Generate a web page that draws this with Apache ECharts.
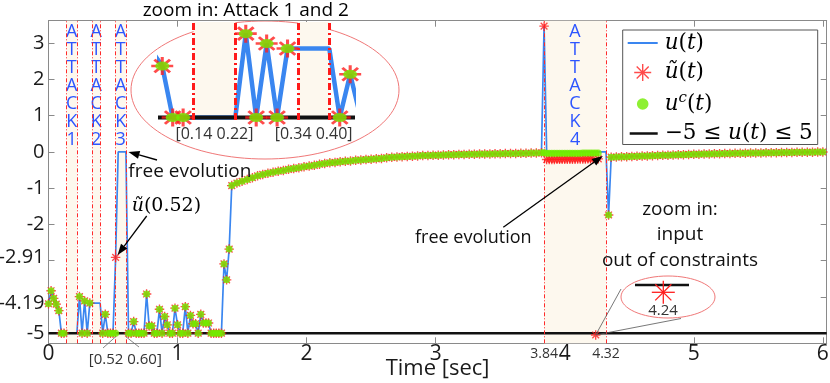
<!DOCTYPE html>
<html><head><meta charset="utf-8">
<script src="https://cdn.jsdelivr.net/npm/echarts@6/dist/echarts.min.js"></script>
<style>html,body{margin:0;padding:0;background:#fff}#c{width:830px;height:383px}</style>
</head><body><div id="c"></div><script>
// ---------- axes ----------
const X_MIN = 0, X_MAX = 6.03, Y_MIN = -5.28, Y_MAX = 3.62;
const xTickValues = [0, 1, 2, 3, 4, 5, 6];
const xExtraLabels = [3.84, 4.32];
const yTickValues = [-5, -4, -3, -2, -1, 0, 1, 2, 3];
const yLabelValues = [-5, -4.19, -2.91, -2, -1, 0, 1, 2, 3];
const bounds = [-5, 5];
// ---------- attacks ----------
const attackStart = [0.14, 0.34, 0.52, 3.84];
const attackEnd = [0.22, 0.40, 0.60, 4.32];
const attackNames = ['ATTACK1', 'ATTACK2', 'ATTACK3', 'ATTACK4'];
const insetAttackIdx = [0, 1];
const INSET_X = [0.0757, 0.4454], INSET_Y = [-5.03, -3.85];
// ---------- segment A: 0 .. 1.40 (discrete, dt = 0.02) ----------
const tA = [0,0.02,0.04,0.06,0.08,0.1,0.12,0.14,0.16,0.18,0.2,0.22,0.24,0.26,0.28,0.3,0.32,0.34,0.36,0.38,0.4,
  0.42,0.44,0.46,0.48,0.5,0.52,0.54,0.56,0.58,0.6,0.62,0.64,0.66,0.68,0.7,0.72,0.74,0.76,0.78,0.8,
  0.82,0.84,0.86,0.88,0.9,0.92,0.94,0.96,0.98,1,1.02,1.04,1.06,1.08,1.1,1.12,1.14,1.16,1.18,1.2,
  1.22,1.24,1.26,1.28,1.3,1.32,1.34,1.36,1.38,1.4];
const uA = [-4.19,-3.83,-4.04,-4.20,-4.38,-5,-5,
  -5,-5,-5,-5,-5,
  -3.99,-5,-4.11,-5,-4.17,
  -4.17,-4.17,-4.17,-4.17,
  -5,-4.48,-5,-5,-5,-2.91,
  0,0,0,0,
  -5,-5,-4.68,-5,-5,-5,-5,-3.92,-4.80,-4.80,-5,-5,-4.34,-5,-4.54,-4.77,-5,-5,-4.31,-4.77,
  -5,-5,-4.27,-5,-4.51,-4.74,-4.74,-5,-4.48,-4.72,-4.72,-4.72,-5,-5,-5,-5,-5,-3.09,-3.53,-2.68];
const uTildeA = [-4.19,-3.83,-4.04,-4.20,-4.38,-5,-5,
  null,null,null,null,null,
  -3.99,-5,-4.11,-5,-4.17,
  null,null,null,null,
  -5,-4.48,-5,-5,-5,-2.91,
  null,null,null,null,
  -5,-5,-4.68,-5,-5,-5,-5,-3.92,-4.80,-4.80,-5,-5,-4.34,-5,-4.54,-4.77,-5,-5,-4.31,-4.77,
  -5,-5,-4.27,-5,-4.51,-4.74,-4.74,-5,-4.48,-4.72,-4.72,-4.72,-5,-5,-5,-5,-5,-3.09,-3.53,-2.68];
const uCA = [-4.19,-3.83,-4.04,-4.20,-4.38,-5,-5,
  null,null,null,null,null,
  -3.99,-5,-4.11,-5,-4.17,
  null,null,null,null,
  -5,-4.48,-5,-5,-5,-5,
  null,null,null,null,
  -5,-5,-4.68,-5,-5,-5,-5,-3.92,-4.80,-4.80,-5,-5,-4.34,-5,-4.54,-4.77,-5,-5,-4.31,-4.77,
  -5,-5,-4.27,-5,-4.51,-4.74,-4.74,-5,-4.48,-4.72,-4.72,-4.72,-5,-5,-5,-5,-5,-3.09,-3.53,-2.68];
// ---------- segment B: 1.42 .. 3.82 (u = u~ = u^c) ----------
const tB = [1.42,1.46,1.5,1.54,1.58,1.62,1.66,1.7,1.74,1.78,1.82,1.86,1.9,1.94,1.98,2.02,2.06,2.1,2.14,2.18,
  2.22,2.26,2.3,2.34,2.38,2.42,2.46,2.5,2.54,2.58,2.62,2.66,2.7,2.74,2.78,2.82,2.86,2.9,2.94,2.98,
  3.02,3.06,3.1,3.14,3.18,3.22,3.26,3.3,3.34,3.38,3.42,3.46,3.5,3.54,3.58,3.62,3.66,3.7,3.74,3.78,3.82];
const uB = [-0.93,-0.86,-0.81,-0.76,-0.71,-0.66,-0.62,-0.59,-0.56,-0.53,
  -0.51,-0.48,-0.46,-0.44,-0.41,-0.39,-0.37,-0.34,-0.32,-0.30,
  -0.29,-0.27,-0.26,-0.25,-0.23,-0.22,-0.21,-0.20,-0.19,-0.18,
  -0.16,-0.15,-0.14,-0.13,-0.125,-0.12,-0.11,-0.10,-0.10,-0.095,
  -0.09,-0.085,-0.08,-0.075,-0.07,-0.068,-0.065,-0.062,-0.06,-0.057,
  -0.055,-0.052,-0.05,-0.047,-0.045,-0.042,-0.04,-0.037,-0.033,-0.03,-0.025];
// ---------- segment C: attack 4, 3.84 .. 4.34 ----------
const tC = [3.84,3.86,3.88,3.9,3.92,3.94,3.96,3.98,4,4.02,4.04,4.06,4.08,4.1,4.12,4.14,4.16,4.18,4.2,4.22,4.24,4.26,4.28,4.3,4.32,4.34];
const uAtk4 = [3.47,0,0,0,0,0,0,0,0,0,0,0,0,0,0,0,0,0,0,0,0,0,0,0,0,-1.74];
const uTildeAtk4 = [3.47,-0.21,-0.21,-0.21,-0.21,-0.205,-0.205,-0.205,-0.2,-0.2,-0.2,-0.2,-0.2,-0.195,-0.195,-0.195,-0.195,-0.19,-0.19,-0.19,-5.05,-0.19,null,null,null,-1.74];
const uCAtk4 = [-0.02,-0.04,-0.04,-0.04,-0.04,-0.038,-0.038,-0.038,-0.036,-0.036,-0.036,-0.035,-0.035,-0.034,-0.034,-0.033,-0.033,-0.032,-0.032,-0.031,-0.031,-0.03,null,null,null,-1.74];
// ---------- segment D: 4.36 .. 6.00 (u = u~ = u^c) ----------
const tD = [4.36,4.4,4.44,4.48,4.52,4.56,4.6,4.64,4.68,4.72,4.76,4.8,4.84,4.88,4.92,4.96,5,5.04,5.08,5.12,5.16,
  5.2,5.24,5.28,5.32,5.36,5.4,5.44,5.48,5.52,5.56,5.6,5.64,5.68,5.72,5.76,5.8,5.84,5.88,5.92,5.96,6];
const uD = [-0.145,-0.14,-0.135,-0.13,-0.125,-0.12,-0.115,-0.11,-0.105,-0.10,
  -0.095,-0.09,-0.085,-0.08,-0.075,-0.07,-0.066,-0.062,-0.058,-0.055,
  -0.052,-0.049,-0.046,-0.043,-0.04,-0.037,-0.034,-0.032,-0.03,-0.027,
  -0.025,-0.022,-0.02,-0.018,-0.016,-0.014,-0.012,-0.01,-0.008,-0.006,-0.004,-0.002];

// ---------- build ----------
const zip = (t, v) => t.map((x, i) => [x, v[i]]);
const notNull = d => d[1] !== null;
const blueData = [...zip(tA, uA), ...zip(tB, uB), ...zip(tC, uAtk4), ...zip(tD, uD)];
const redData = [...zip(tA, uTildeA), ...zip(tB, uB), ...zip(tC, uTildeAtk4), ...zip(tD, uD)].filter(notNull);
const greenData = [...zip(tA, uCA), ...zip(tB, uB), ...zip(tC, uCAtk4), ...zip(tD, uD)].filter(notNull);
const boundData = bounds.flatMap(b => [[X_MIN, b], [X_MAX, b], [X_MAX, '-']]);

const BLUE = '#3a86f0', RED = '#ff1e1e', GREEN = '#72ec00', BLACK = '#111', FRAME = '#8a8a8a';
const SANS = 'Open Sans', MATH = 'DejaVu Serif';

function starPath(cx, cy, r, hw) {
  let d = '';
  for (const a of [0, 45, 90, 135]) {
    const rad = a * Math.PI / 180, dx = Math.cos(rad) * r, dy = Math.sin(rad) * r;
    const px = -Math.sin(rad) * hw, py = Math.cos(rad) * hw;
    const p = [[cx - dx + px, cy - dy + py], [cx + dx + px, cy + dy + py], [cx + dx - px, cy + dy - py], [cx - dx - px, cy - dy - py]];
    d += 'M' + p.map(q => q[0].toFixed(2) + ',' + q[1].toFixed(2)).join('L') + 'Z';
  }
  return d;
}
const CORNERS = 'M0,0L0.01,0L0,0.01Z M32,20L31.99,20L32,19.99Z ';
const STAR_SYMBOL = 'path://' + starPath(0, 0, 10, 1.4);
const legendIcons = {
  u: 'path://' + CORNERS + 'M0,9.1L30,9.1L30,10.9L0,10.9Z',
  uTilde: 'path://' + CORNERS + starPath(15, 10, 8.5, 0.7),
  uC: 'path://' + CORNERS + 'M9.2,10A5.8,5.8 0 1 0 20.8,10A5.8,5.8 0 1 0 9.2,10Z',
  bound: 'path://' + CORNERS + 'M2,8.7L30,8.7L30,11.3L2,11.3Z'
};
const legendText = {
  u: '{i|u}{n|(}{i|t}{n|)}',
  uTilde: '{i|ũ}{n|(}{i|t}{n|)}',
  uC: '{i|u}{s|c}{n|(}{i|t}{n|)}',
  bound: '{n|−5 ≤ }{i|u}{n|(}{i|t}{n|)}{n| ≤ 5}'
};

function attackSeries(xi, yi, idx, inset) {
  return {
    name: inset ? 'attacks-inset' : 'attacks', type: 'line', xAxisIndex: xi, yAxisIndex: yi, data: [], z: 1, silent: true,
    markArea: {
      silent: true, itemStyle: { color: '#fdf8ee' },
      label: inset
        ? { show: true, position: 'bottom', distance: 6, color: '#333', fontSize: 16, fontFamily: SANS }
        : { show: true, position: 'insideTop', distance: 2, color: '#2d55ff', fontSize: 18, lineHeight: 18, fontFamily: SANS },
      data: idx.map(i => [{ xAxis: attackStart[i], name: inset ? '[' + attackStart[i].toFixed(2) + ' ' + attackEnd[i].toFixed(2) + ']' : attackNames[i].split('').join('\n') }, { xAxis: attackEnd[i] }])
    },
    markLine: {
      silent: true, symbol: ['none', 'none'], label: { show: false },
      lineStyle: inset ? { color: '#ff1a1a', width: 3, type: [7, 3, 2, 3] } : { color: '#ff2a2a', width: 1, type: [4, 2, 1, 2] },
      data: idx.flatMap(i => [{ xAxis: attackStart[i] }, { xAxis: attackEnd[i] }])
    }
  };
}
function dataSeries(xi, yi, inset) {
  const sfx = inset ? '-inset' : '';
  return [
    { name: 'u' + sfx, type: 'line', xAxisIndex: xi, yAxisIndex: yi, data: blueData, symbol: 'none', z: 3,
      lineStyle: { color: BLUE, width: inset ? 4.5 : 1.7 }, itemStyle: { color: BLUE } },
    { name: 'bound' + sfx, type: 'line', xAxisIndex: xi, yAxisIndex: yi, data: boundData, symbol: 'none', z: 4,
      lineStyle: { color: BLACK, width: inset ? 4 : 2.5 }, itemStyle: { color: BLACK } },
    { name: 'uTilde' + sfx, type: 'scatter', xAxisIndex: xi, yAxisIndex: yi, data: redData, symbol: STAR_SYMBOL,
      symbolSize: inset ? [22, 18] : 9.5, z: 5, itemStyle: { color: RED } },
    { name: 'uC' + sfx, type: 'scatter', xAxisIndex: xi, yAxisIndex: yi, data: greenData, symbol: 'circle',
      symbolSize: inset ? [14, 9] : 7, z: 6, itemStyle: { color: GREEN } }
  ];
}

const chart = echarts.init(document.getElementById('c'), null, { renderer: 'canvas', width: 830, height: 383 });
const option = {
  animation: false,
  backgroundColor: '#fff',
  grid: [
    { left: 48.5, top: 20.7, width: 778.2, height: 322.6, outerBoundsMode: 'none', containLabel: false },
    { left: 160, top: 22, width: 193, height: 98, outerBoundsMode: 'none', containLabel: false }
  ],
  xAxis: [
    { type: 'value', gridIndex: 0, min: X_MIN, max: X_MAX, position: 'bottom',
      axisLine: { show: true, onZero: false, lineStyle: { color: FRAME, width: 1 } },
      axisTick: { show: true, inside: true, length: 6, customValues: xTickValues, lineStyle: { color: FRAME } },
      axisLabel: { show: true, margin: -1, customValues: [...xTickValues, ...xExtraLabels], color: '#1a1a1a', fontFamily: SANS, fontSize: 21,
        formatter: v => xExtraLabels.includes(v) ? '{s|' + v.toFixed(2) + '}' : '{b|' + v + '}',
        rich: { b: { fontSize: 21, lineHeight: 24, fontFamily: SANS, color: '#1a1a1a' }, s: { fontSize: 14, lineHeight: 24, fontFamily: SANS, color: '#333' } } },
      splitLine: { show: false },
      name: 'Time [sec]', nameLocation: 'middle', nameGap: 14, nameMoveOverlap: false,
      nameTextStyle: { fontSize: 22, fontFamily: SANS, color: '#1a1a1a' } },
    { type: 'value', gridIndex: 0, min: X_MIN, max: X_MAX, position: 'top',
      axisLine: { show: true, onZero: false, lineStyle: { color: FRAME, width: 1 } },
      axisTick: { show: true, inside: true, length: 6, customValues: xTickValues, lineStyle: { color: FRAME } },
      axisLabel: { show: false }, splitLine: { show: false } },
    { type: 'value', gridIndex: 1, min: INSET_X[0], max: INSET_X[1], show: false }
  ],
  yAxis: [
    { type: 'value', gridIndex: 0, min: Y_MIN, max: Y_MAX, position: 'left',
      axisLine: { show: true, onZero: false, lineStyle: { color: FRAME, width: 1 } },
      axisTick: { show: true, inside: true, length: 6, customValues: yTickValues, lineStyle: { color: FRAME } },
      axisLabel: { show: true, margin: 4, customValues: yLabelValues, color: '#1a1a1a', fontFamily: SANS, fontSize: 20, formatter: v => String(v) },
      splitLine: { show: false } },
    { type: 'value', gridIndex: 0, min: Y_MIN, max: Y_MAX, position: 'right',
      axisLine: { show: true, onZero: false, lineStyle: { color: FRAME, width: 1 } },
      axisTick: { show: true, inside: true, length: 6, customValues: yTickValues, lineStyle: { color: FRAME } },
      axisLabel: { show: false }, splitLine: { show: false } },
    { type: 'value', gridIndex: 1, min: INSET_Y[0], max: INSET_Y[1], show: false }
  ],
  legend: {
    orient: 'vertical', left: 622.7, top: 30, z: 10,
    backgroundColor: '#fff', borderColor: '#555', borderWidth: 1, borderRadius: 0,
    padding: [2, 5, 0, 5], itemGap: 7.5, itemWidth: 32, itemHeight: 20,
    itemStyle: { borderWidth: 0 }, selectedMode: false,
    data: ['u', 'uTilde', 'uC', 'bound'].map(n => ({ name: n, icon: legendIcons[n] })),
    formatter: n => legendText[n],
    textStyle: { color: '#000', rich: {
      i: { fontFamily: MATH, fontStyle: 'italic', fontSize: 21.5, lineHeight: 26, color: '#000' },
      n: { fontFamily: MATH, fontSize: 21.5, lineHeight: 26, color: '#000' },
      s: { fontFamily: MATH, fontStyle: 'italic', fontSize: 15, lineHeight: 12, verticalAlign: 'top', color: '#000' }
    } }
  },
  series: [
    attackSeries(0, 0, [0, 1, 2, 3], false),
    ...dataSeries(0, 0, false),
    attackSeries(2, 2, insetAttackIdx, true),
    ...dataSeries(2, 2, true)
  ]
};
chart.setOption(option);

// ---------- annotations ----------
const P = (t, v) => chart.convertToPixel({ xAxisIndex: 0, yAxisIndex: 0 }, [t, v]);
function arrow(x1, y1, x2, y2) {
  const L = 11, W = 4, a = Math.atan2(y2 - y1, x2 - x1);
  const bx = x2 - L * Math.cos(a), by = y2 - L * Math.sin(a);
  const nx = -Math.sin(a) * W, ny = Math.cos(a) * W;
  return [
    { type: 'line', z: 20, shape: { x1, y1, x2: bx, y2: by }, style: { stroke: '#000', lineWidth: 1.3 } },
    { type: 'polygon', z: 20, shape: { points: [[x2, y2], [bx + nx, by + ny], [bx - nx, by - ny]] }, style: { fill: '#000' } }
  ];
}
function thinLine(x1, y1, x2, y2, color, w) {
  return { type: 'line', z: 20, shape: { x1, y1, x2, y2 }, style: { stroke: color, lineWidth: w } };
}
function txt(x, y, text, size, opts) {
  return { type: 'text', z: 20, x, y, style: Object.assign({ text, fontSize: size, fontFamily: SANS, fill: '#111', verticalAlign: 'middle', align: 'left' }, opts || {}) };
}
const head1 = P(0.62, 0);
const star052 = P(0.52, -2.91);
const head3 = P(4.28, 0);
const star424 = P(4.24, -5.05);
const b052 = P(0.52, -5.1), b060 = P(0.60, -5.1);
const zc = [663.3, 292.3], zr = 11.5;
const graphic = [
  { type: 'ellipse', z: 0, shape: { cx: 265, cy: 90, rx: 134, ry: 69 }, style: { fill: 'none', stroke: '#f07878', lineWidth: 1 } },
  txt(142.7, 10.7, 'zoom in: Attack 1 and 2', 19, { fill: '#000' }),
  txt(128.3, 171.5, 'free evolution', 19),
  ...arrow(157, 160, head1[0], head1[1]),
  { type: 'text', z: 20, x: 131.7, y: 206.5, style: { text: '{i|ũ}{n|(0.52)}', verticalAlign: 'middle', rich: {
      i: { fontFamily: MATH, fontStyle: 'italic', fontSize: 19, fill: '#000' }, n: { fontFamily: MATH, fontSize: 19, fill: '#000' } } } },
  ...arrow(146.7, 216, star052[0] + 2, star052[1] - 2.5),
  txt(415, 237.7, 'free evolution', 18),
  ...arrow(503.3, 227.3, head3[0] + 2, head3[1] + 4),
  txt(680, 235, 'zoom in:\ninput\nout of constraints', 19, { align: 'center', lineHeight: 25.8 }),
  { type: 'ellipse', z: 19, shape: { cx: 668, cy: 297, rx: 47, ry: 21 }, style: { fill: 'none', stroke: '#f07878', lineWidth: 1 } },
  thinLine(star424[0], star424[1], 621, 289, '#555', 0.8),
  thinLine(star424[0], star424[1], 681, 318.5, '#555', 0.8),
  thinLine(635, 285, 689, 285, '#111', 2.5),
  thinLine(zc[0] - zr, zc[1], zc[0] + zr, zc[1], RED, 1.3),
  thinLine(zc[0], zc[1] - zr, zc[0], zc[1] + zr, RED, 1.3),
  thinLine(zc[0] - zr * 0.7, zc[1] - zr * 0.7, zc[0] + zr * 0.7, zc[1] + zr * 0.7, RED, 1.3),
  thinLine(zc[0] - zr * 0.7, zc[1] + zr * 0.7, zc[0] + zr * 0.7, zc[1] - zr * 0.7, RED, 1.3),
  txt(663, 310.5, '4.24', 15, { align: 'center', fill: '#333' }),
  txt(125.3, 359.5, '[0.52 0.60]', 15, { align: 'center', fill: '#333' }),
  thinLine(b052[0], b052[1], 103, 348, '#666', 0.8),
  thinLine(b060[0], b060[1], 139, 347, '#666', 0.8)
];
chart.setOption({ graphic });
</script></body></html>
